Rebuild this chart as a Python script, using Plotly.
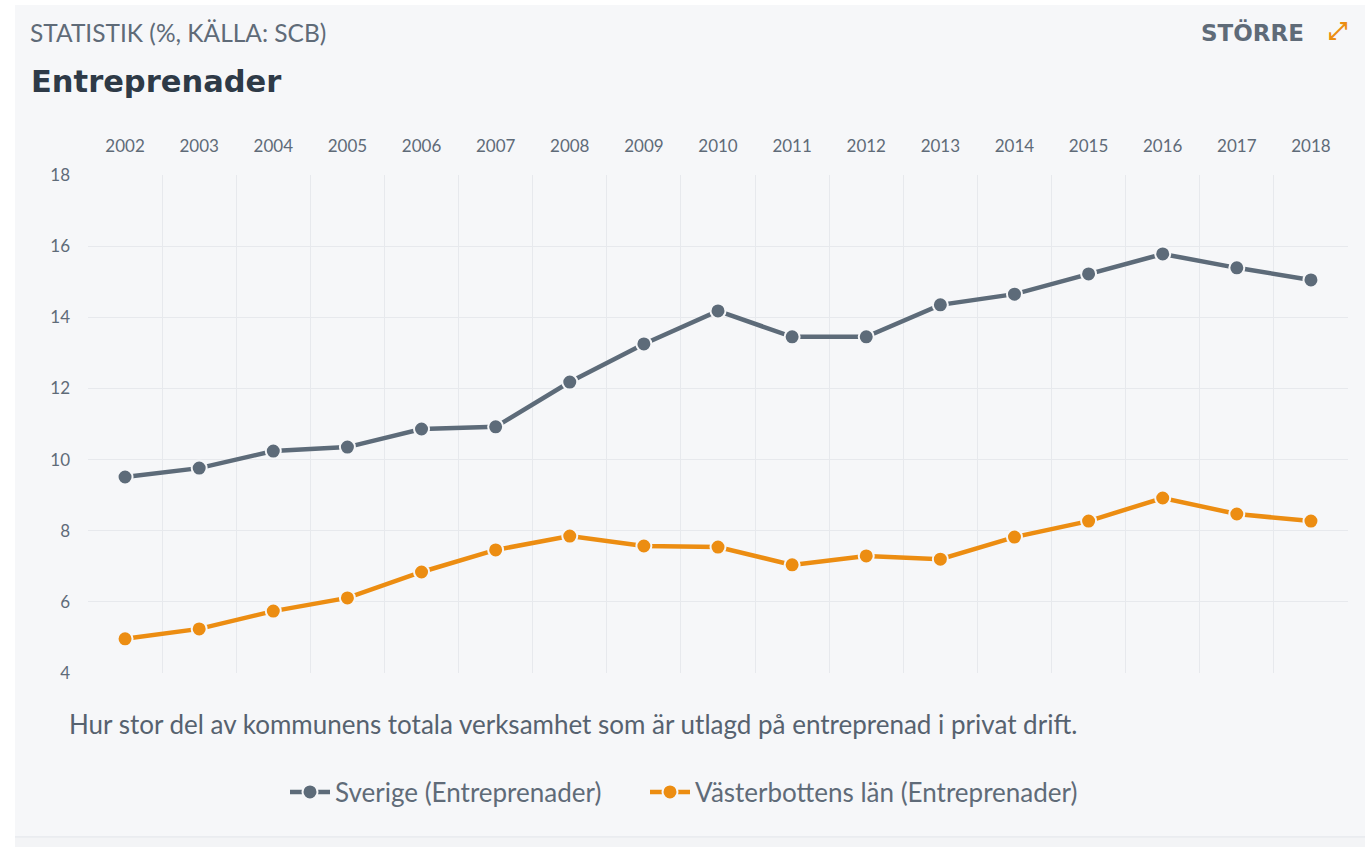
import plotly.graph_objects as go

years = [str(y) for y in range(2002, 2019)]
sverige = [9.51, 9.76, 10.24, 10.35, 10.86, 10.92, 12.18, 13.25, 14.18, 13.45, 13.45, 14.35, 14.65, 15.22, 15.78, 15.39, 15.05]
vasterbotten = [4.96, 5.24, 5.74, 6.11, 6.84, 7.46, 7.85, 7.57, 7.54, 7.04, 7.29, 7.20, 7.82, 8.27, 8.92, 8.47, 8.27]
y_ticks = [4, 6, 8, 10, 12, 14, 16, 18]

GRAY = "#5d6b79"
ORANGE = "#ec8d12"
BG = "#f6f7f9"
TXT = "#5f6b78"

W, H = 1365, 847
L, R, T, B = 88, 1348, 175, 673

def px(x):
    return (x - L) / (R - L)

def py(y):
    return (B - y) / (B - T)

fig = go.Figure()
fig.add_trace(go.Scatter(
    x=years, y=sverige, name="Sverige (Entreprenader)", mode="lines+markers",
    legend="legend",
    line=dict(color=GRAY, width=4.5),
    marker=dict(size=15, color=GRAY, line=dict(color=BG, width=2)),
))
fig.add_trace(go.Scatter(
    x=years, y=vasterbotten, name="Västerbottens län (Entreprenader)", mode="lines+markers",
    legend="legend2",
    line=dict(color=ORANGE, width=4.5),
    marker=dict(size=15, color=ORANGE, line=dict(color=BG, width=2)),
))

shapes = [
    dict(type="rect", xref="paper", yref="paper", x0=px(15), x1=px(W + 5), y0=py(837), y1=py(5),
         fillcolor=BG, line=dict(width=0), layer="below"),
    dict(type="rect", xref="paper", yref="paper", x0=px(15), x1=px(W + 5), y0=py(H + 5), y1=py(838),
         fillcolor="#f3f4f6", line=dict(width=0), layer="below"),
    dict(type="line", xref="paper", yref="paper", x0=px(15), x1=px(W + 5), y0=py(837), y1=py(837),
         line=dict(color="#e6e8ec", width=1.5), layer="below"),
]

annotations = [
    dict(text="STATISTIK (%, KÄLLA: SCB)", x=px(28), y=py(32), xref="paper", yref="paper",
         xanchor="left", yanchor="middle", showarrow=False,
         font=dict(family="Lato", size=24.5, color=TXT)),
    dict(text="<b>Entreprenader</b>", x=px(29), y=py(82), xref="paper", yref="paper",
         xanchor="left", yanchor="middle", showarrow=False,
         font=dict(family="DejaVu Sans", size=30.5, color="#2e3a47")),
    dict(text="<b>STÖRRE</b>", x=px(1306), y=py(32), xref="paper", yref="paper",
         xanchor="right", yanchor="middle", showarrow=False,
         font=dict(family="DejaVu Sans", size=23, color=TXT)),
    dict(text="<b>⤢</b>", x=px(1338), y=py(31), xref="paper", yref="paper",
         xanchor="center", yanchor="middle", showarrow=False,
         font=dict(family="DejaVu Sans", size=24, color=ORANGE)),
    dict(text="Hur stor del av kommunens totala verksamhet som är utlagd på entreprenad i privat drift.",
         x=px(67), y=py(724), xref="paper", yref="paper",
         xanchor="left", yanchor="middle", showarrow=False,
         font=dict(family="Lato", size=26, color="#56626f")),
]

legend_style = dict(orientation="h", yanchor="middle", y=py(792), xanchor="left",
                    font=dict(family="Lato", size=26, color="#5f6b78"),
                    bgcolor="rgba(0,0,0,0)", itemwidth=40)

fig.update_layout(
    width=W, height=H,
    margin=dict(l=L, r=W - R, t=T, b=H - B, autoexpand=False),
    paper_bgcolor="white", plot_bgcolor=BG,
    shapes=shapes, annotations=annotations,
    font=dict(family="Lato", color=TXT),
    showlegend=True,
    legend=dict(x=px(285), **legend_style),
    legend2=dict(x=px(645), **legend_style),
    xaxis=dict(type="category", side="top", tickson="boundaries", showgrid=True, automargin=False,
               range=[-0.5, len(years) - 0.5],
               gridcolor="#e7e9ed", gridwidth=1, ticks="", showline=False, zeroline=False,
               tickfont=dict(family="Lato", size=17, color=TXT), ticklabelstandoff=19),
    yaxis=dict(range=[4, 18], tickvals=y_ticks, showgrid=True, gridcolor="#e7e9ed", gridwidth=1,
               ticks="", showline=False, zeroline=False, automargin=False,
               tickfont=dict(family="Lato", size=17, color=TXT), ticklabelstandoff=17),
)

fig.write_html("out.html", config={"displayModeBar": False},
               post_script="document.body.style.margin='0';")
